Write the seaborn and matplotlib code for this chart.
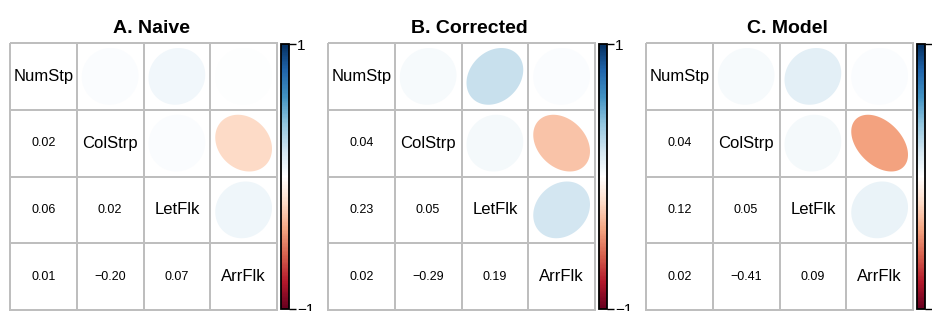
import numpy as np
import matplotlib
matplotlib.use("Agg")
import matplotlib.pyplot as plt
import seaborn as sns
from matplotlib.colors import LinearSegmentedColormap, Normalize
from matplotlib.patches import Polygon

# ---------------- data ----------------
variables = ["NumStp", "ColStrp", "LetFlk", "ArrFlk"]
# lower-triangle pairs (row, col), row > col
pairs = [(1, 0), (2, 0), (2, 1), (3, 0), (3, 1), (3, 2)]
naive_r = [0.02, 0.06, 0.02, 0.01, -0.20, 0.07]
corrected_r = [0.04, 0.23, 0.05, 0.02, -0.29, 0.19]
model_r = [0.04, 0.12, 0.05, 0.02, -0.41, 0.09]
titles = ["A. Naive", "B. Corrected", "C. Model"]
panel_values = [naive_r, corrected_r, model_r]
cbar_ticks = [-1, 1]
cbar_ticklabels = ["\u22121", "1"]

# ---------------- style ----------------
sns.set_style("white")
plt.rcParams["font.family"] = ["Liberation Sans", "DejaVu Sans"]
plt.rcParams["text.color"] = "black"
plt.rcParams["axes.titlecolor"] = "black"

rdbu = ["#67001F", "#B2182B", "#D6604D", "#F4A582", "#FDDBC7", "#FFFFFF",
        "#D1E5F0", "#92C5DE", "#4393C3", "#2166AC", "#053061"]
cmap = LinearSegmentedColormap.from_list("corrRdBu", rdbu, N=201)
norm = Normalize(vmin=-1, vmax=1)

W, H = 932, 311
fig = plt.figure(figsize=(W / 100, H / 100), dpi=100)
fig.patch.set_facecolor("white")

grid_lefts = [10, 328, 646]
grid_top, grid_size = 43, 267
cbar_lefts = [281, 599, 917]
cbar_w = 8
grid_col = "#BEBEBE"


def fx(px):
    return px / W


def fy(py):
    return 1 - py / H


def ellipse_pts(rho, n=99):
    k = np.linspace(0, 2 * np.pi, n)
    d = np.arccos(rho)
    x = 0.85 * np.cos(k + d / 2) / 2
    y = 0.85 * np.cos(k - d / 2) / 2
    return x, y


n = len(variables)
for p in range(3):
    vals = panel_values[p]
    mat = np.eye(n)
    for (i, j), r in zip(pairs, vals):
        mat[i, j] = r
        mat[j, i] = r

    ax = fig.add_axes([fx(grid_lefts[p]), fy(grid_top + grid_size),
                       fx(grid_size), grid_size / H])
    cax = fig.add_axes([fx(cbar_lefts[p]), fy(grid_top + grid_size - 1),
                        fx(cbar_w), (grid_size - 2) / H])

    background = np.zeros_like(mat)  # white cells (centre of the scale)
    sns.heatmap(background, ax=ax, cmap=cmap, vmin=-1, vmax=1,
                linewidths=1.4, linecolor=grid_col, cbar_ax=cax,
                xticklabels=False, yticklabels=False)
    ax.collections[0].set_clip_on(False)

    # upper triangle: ellipses
    for i in range(n):
        for j in range(n):
            if j > i:
                r = mat[i, j]
                ex, ey = ellipse_pts(r)
                poly = Polygon(np.column_stack([j + 0.5 + ex, i + 0.5 - ey]),
                               closed=True, facecolor=cmap(norm(r)),
                               edgecolor="none", zorder=3)
                ax.add_patch(poly)
            elif j == i:
                ax.text(j + 0.5, i + 0.5, variables[i], ha="center",
                        va="center", fontsize=12, color="black", zorder=4)
            else:
                r = mat[i, j]
                s = f"{r:.2f}".replace("-", "\u2212")
                ax.text(j + 0.5, i + 0.5, s, ha="center", va="center",
                        fontsize=9, color="black", zorder=4)

    ax.set_title(titles[p], fontsize=14, fontweight="bold", pad=7,
                 x=0.53, color="black")

    cbar = ax.collections[0].colorbar
    cbar.set_ticks(cbar_ticks)
    cbar.set_ticklabels(cbar_ticklabels)
    cbar.outline.set_edgecolor("black")
    cbar.outline.set_linewidth(1.3)
    cax.tick_params(length=5, width=1, pad=1, labelsize=11, colors="black",
                    direction="out")

fig.savefig("out.png", dpi=100, facecolor="white")
